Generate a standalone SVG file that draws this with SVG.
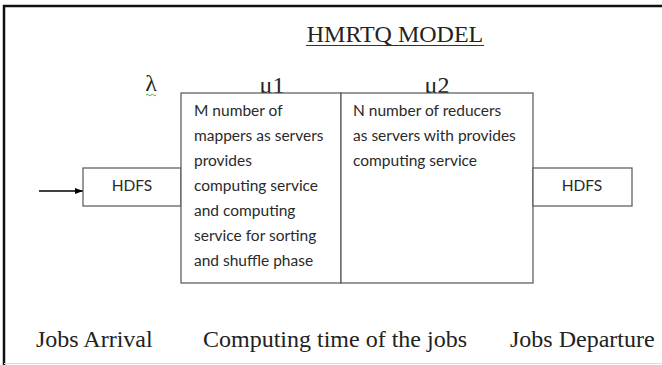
<svg xmlns="http://www.w3.org/2000/svg" width="662" height="365" viewBox="0 0 662 365">
<style>
.box{fill:#fff;stroke:#555;stroke-width:1.2}
.body{font-family:Lato,"Open Sans",sans-serif;font-size:15.5px;fill:#2a2a2a}
.serif{font-family:"Liberation Serif","Times New Roman",serif;fill:#222}
.hd{font-family:Lato,"Open Sans",sans-serif;font-size:15.5px;fill:#2a2a2a;text-anchor:middle}
</style>
<defs>
<marker id="ah" markerWidth="8" markerHeight="6" refX="8" refY="3" orient="auto" markerUnits="userSpaceOnUse">
<path d="M0,0 L8,3 L0,6 Z" fill="#000"/>
</marker>
</defs>
<rect width="662" height="365" fill="#fff"/>
<path d="M4,365 V6 H662" fill="none" stroke="#111" stroke-width="2.5"/>
<line x1="4" y1="363.5" x2="662" y2="363.5" stroke="#ddd" stroke-width="1"/>

<text class="serif" x="395" y="42" font-size="24" text-anchor="middle">HMRTQ MODEL</text>
<line x1="306" y1="45.5" x2="484" y2="45.5" stroke="#333" stroke-width="1.2"/>

<text class="serif" x="151" y="91" font-size="24" text-anchor="middle">λ</text>
<path d="M146,95 q1.25,-1.5 2.5,0 t2.5,0 t2.5,0 t2.5,0" fill="none" stroke="#4a4" stroke-width="1"/>
<text class="serif" x="272" y="93" font-size="24" text-anchor="middle">μ1</text>
<text class="serif" x="437" y="93" font-size="24" text-anchor="middle">μ2</text>

<g id="connectors">
<line x1="39" y1="191" x2="83" y2="191" stroke="#000" stroke-width="1.3" marker-end="url(#ah)"/>
</g>

<g id="hdfs-in">
<rect class="box" x="83" y="168" width="98" height="38"/>
<text class="hd" x="132" y="191">HDFS</text>
</g>

<g id="mappers">
<rect class="box" x="181" y="93" width="160" height="190"/>
<text class="body">
<tspan x="194" y="116">M number of</tspan>
<tspan x="194" y="141">mappers as servers</tspan>
<tspan x="194" y="166">provides</tspan>
<tspan x="194" y="191">computing service</tspan>
<tspan x="194" y="216">and computing</tspan>
<tspan x="194" y="241">service for sorting</tspan>
<tspan x="194" y="266">and shuffle phase</tspan>
</text>
</g>

<g id="reducers">
<rect class="box" x="341" y="93" width="192" height="190"/>
<text class="body">
<tspan x="353" y="116">N number of reducers</tspan>
<tspan x="353" y="141">as servers with provides</tspan>
<tspan x="353" y="166">computing service</tspan>
</text>
</g>

<g id="hdfs-out">
<rect class="box" x="533" y="168" width="99" height="38"/>
<text class="hd" x="582" y="191">HDFS</text>
</g>

<text class="serif" x="36" y="347" font-size="24">Jobs Arrival</text>
<text class="serif" x="203" y="347" font-size="24">Computing time of the jobs</text>
<text class="serif" x="510" y="347" font-size="24">Jobs Departure</text>
</svg>
